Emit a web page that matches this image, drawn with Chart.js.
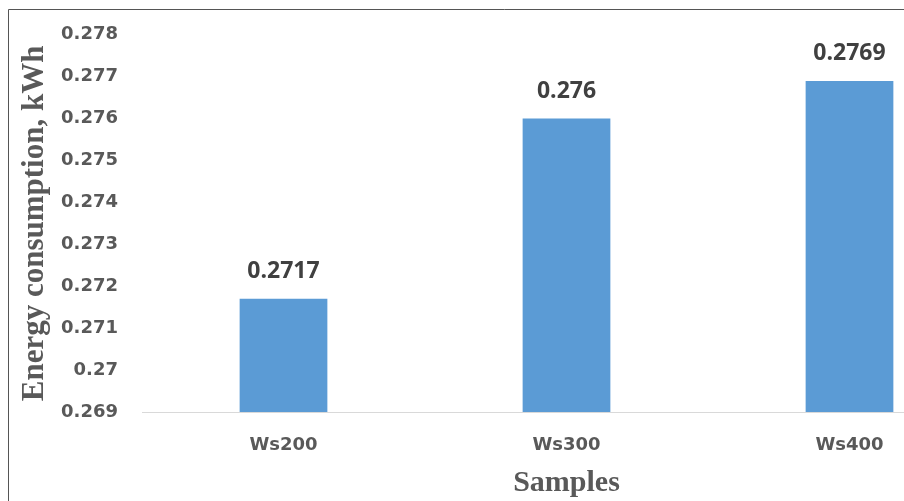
<!DOCTYPE html>
<html>
<head>
<meta charset="utf-8">
<script src="https://cdn.jsdelivr.net/npm/chart.js@4/dist/chart.umd.min.js"></script>
<style>
  html, body { margin: 0; padding: 0; background: #ffffff; overflow: hidden; }
  #wrap { position: relative; width: 1000px; height: 501px; }
</style>
</head>
<body>
<div id="wrap"><canvas id="chart"></canvas></div>
<script>
// Energy consumption per sample (kWh)
const categories = ['Ws200', 'Ws300', 'Ws400'];
const energyKWh = [0.2717, 0.276, 0.2769];
const yTickLabels = ['0.269', '0.27', '0.271', '0.272', '0.273', '0.274', '0.275', '0.276', '0.277', '0.278'];

const yTitle = 'Energy consumption, kWh';
const xTitle = 'Samples';

// Value labels above each bar
const valueLabels = {
  id: 'valueLabels',
  afterDatasetsDraw(chart) {
    const ctx = chart.ctx;
    const meta = chart.getDatasetMeta(0);
    ctx.save();
    ctx.font = 'bold 23px "Open Sans"';
    ctx.fillStyle = '#404040';
    ctx.textAlign = 'center';
    ctx.textBaseline = 'middle';
    meta.data.forEach((bar, i) => {
      ctx.fillText(String(chart.data.datasets[0].data[i]), bar.x, bar.y - 27);
    });
    ctx.restore();
  }
};

// Thin frame along the left and top edges
const frame = {
  id: 'frame',
  afterDraw(chart) {
    const ctx = chart.ctx;
    ctx.save();
    ctx.strokeStyle = '#555555';
    ctx.lineWidth = 1;
    ctx.beginPath();
    ctx.moveTo(8.5, chart.height);
    ctx.lineTo(8.5, 9.5);
    ctx.lineTo(chart.width, 9.5);
    ctx.stroke();
    ctx.restore();
  }
};

new Chart(document.getElementById('chart'), {
  type: 'bar',
  data: {
    labels: categories,
    datasets: [{
      data: energyKWh,
      backgroundColor: '#5B9BD5',
      borderWidth: 0,
      barPercentage: 0.31,
      categoryPercentage: 1
    }]
  },
  options: {
    responsive: true,
    maintainAspectRatio: false,
    animation: false,
    layout: { padding: { left: 0, right: 9, top: 31, bottom: 0 } },
    plugins: {
      legend: { display: false },
      tooltip: { enabled: false }
    },
    scales: {
      x: {
        grid: { display: false, drawTicks: false },
        border: { display: true, color: '#d9d9d9', width: 1 },
        ticks: {
          color: '#595959',
          font: { family: '"DejaVu Sans"', size: 18, weight: 'bold' },
          padding: 23
        },
        title: {
          display: true,
          text: xTitle,
          color: '#595959',
          font: { family: '"Liberation Serif"', size: 30, weight: 'bold' },
          padding: { top: 0, bottom: 0 }
        },
        afterFit(scale) { scale.height = 89; }
      },
      y: {
        min: 0.269,
        max: 0.278,
        grid: { display: false, drawTicks: false },
        border: { display: false },
        ticks: {
          stepSize: 0.001,
          color: '#595959',
          font: { family: '"DejaVu Sans"', size: 18, weight: 'bold' },
          padding: 24,
          callback: (value, index) => yTickLabels[index]
        },
        title: {
          display: true,
          text: yTitle,
          color: '#595959',
          font: { family: '"Liberation Serif"', size: 31, weight: 'bold' },
          padding: { top: 16, bottom: 0 }
        },
        afterFit(scale) { scale.width = 142; }
      }
    }
  },
  plugins: [valueLabels, frame]
});
</script>
</body>
</html>
